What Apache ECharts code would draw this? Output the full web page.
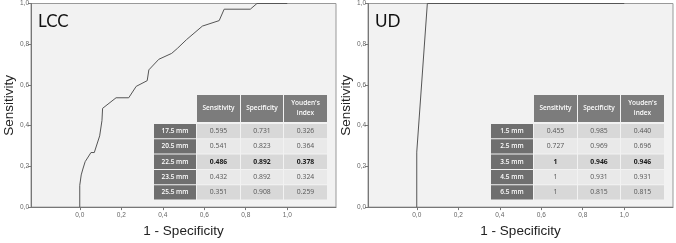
<!DOCTYPE html>
<html><head><meta charset="utf-8">
<script src="https://cdn.jsdelivr.net/npm/echarts@6/dist/echarts.min.js"></script>
<style>html,body{margin:0;padding:0;background:#fff}#c{width:676px;height:243px}</style>
</head><body><div id="c"></div>
<script>
// ---- data ----
const xTicks = [0, 0.2, 0.4, 0.6, 0.8, 1.0];
const lccCurve = [[0,0],[0,0.107],[0.007,0.11],[0.007,0.158],[0.015,0.187],[0.026,0.223],[0.054,0.268],[0.07,0.268],[0.096,0.35],[0.107,0.425],[0.11,0.485],[0.175,0.537],[0.236,0.537],[0.272,0.593],[0.325,0.621],[0.333,0.674],[0.381,0.726],[0.443,0.755],[0.47,0.779],[0.515,0.823],[0.591,0.889],[0.672,0.916],[0.696,0.972],[0.822,0.972],[0.854,1],[1,1]];
const udCurve = [[0,0],[0,0.27],[0.051,1],[1,1]];
const panelTitles = ['LCC', 'UD'];
const tableHeaders = ['Sensitivity', 'Specificity', "Youden's\nindex"];
const lccCutoffs = ['17.5 mm', '20.5 mm', '22.5 mm', '23.5 mm', '25.5 mm'];
const lccSensitivity = ['0.595', '0.541', '0.486', '0.432', '0.351'];
const lccSpecificity = ['0.731', '0.823', '0.892', '0.892', '0.908'];
const lccYouden = ['0.326', '0.364', '0.378', '0.324', '0.259'];
const udCutoffs = ['1.5 mm', '2.5 mm', '3.5 mm', '4.5 mm', '6.5 mm'];
const udSensitivity = ['0.455', '0.727', '1', '1', '1'];
const udSpecificity = ['0.985', '0.969', '0.946', '0.931', '0.815'];
const udYouden = ['0.440', '0.696', '0.946', '0.931', '0.815'];
const boldRow = 2;

// ---- layout ----
const panelLeft = [31, 368];
const panelTop = 3, panelW = 305, panelH = 206;
const fmt = v => v.toFixed(1).replace('.', ',');
const smallFont = 'Open Sans';

function makeX(i) {
  return {
    gridIndex: i, type: 'value', min: -0.235, max: 1.235, position: 'bottom',
    name: '1 - Specificity', nameLocation: 'middle', nameGap: 14,
    nameTextStyle: { fontFamily: 'Liberation Sans', fontSize: 13.5, color: '#222' },
    axisLine: { show: true, onZero: false, lineStyle: { color: '#777', width: 1 } },
    axisTick: { show: true, length: 3, customValues: xTicks, lineStyle: { color: '#777' } },
    axisLabel: { customValues: xTicks, formatter: fmt, fontSize: 6.5, color: '#666', margin: 5, fontFamily: 'Liberation Sans' },
    splitLine: { show: false }
  };
}
function makeY(i) {
  return {
    gridIndex: i, type: 'value', min: 0, max: 1, interval: 0.2, position: 'left',
    name: 'Sensitivity', nameLocation: 'middle', nameGap: 14,
    nameTextStyle: { fontFamily: 'Liberation Sans', fontSize: 13.5, color: '#222' },
    axisLine: { show: true, onZero: false, lineStyle: { color: '#777', width: 1 } },
    axisTick: { show: true, length: 3, lineStyle: { color: '#777' } },
    axisLabel: { formatter: fmt, fontSize: 6.5, color: '#666', margin: 2, fontFamily: 'Liberation Sans' },
    splitLine: { show: false }
  };
}

function buildTable(px, py, cutoffs, sens, spec, you) {
  const els = [];
  const labX = px + 123, labW = 42;
  const colX = [px + 166, px + 210, px + 253];
  const colW = [43, 42, 43];
  const headY = py + 92, headH = 27;
  const rowY0 = py + 121, rowH = 14.3, rowP = 15.3;
  tableHeaders.forEach((h, j) => {
    els.push({ type: 'rect', silent: true, shape: { x: colX[j], y: headY, width: colW[j], height: headH }, style: { fill: '#7c7c7c' } });
    els.push({ type: 'text', silent: true, x: colX[j] + colW[j] / 2, y: headY + headH / 2,
      style: { text: h, fill: '#fff', fontFamily: smallFont, fontSize: 6.5, fontWeight: 600, align: 'center', verticalAlign: 'middle', lineHeight: 10 } });
  });
  const cols = [sens, spec, you];
  cutoffs.forEach((c, i) => {
    const y = rowY0 + i * rowP;
    const bold = i === boldRow;
    els.push({ type: 'rect', silent: true, shape: { x: labX, y: y, width: labW, height: rowH }, style: { fill: '#6f6f6f' } });
    els.push({ type: 'text', silent: true, x: labX + labW / 2, y: y + rowH / 2,
      style: { text: c, fill: '#fff', fontFamily: smallFont, fontSize: 6.5, fontWeight: 600, align: 'center', verticalAlign: 'middle' } });
    cols.forEach((arr, j) => {
      els.push({ type: 'rect', silent: true, shape: { x: colX[j], y: y, width: colW[j], height: rowH }, style: { fill: i % 2 === 0 ? '#d8d8d8' : '#e9e9e9' } });
      els.push({ type: 'text', silent: true, x: colX[j] + colW[j] / 2, y: y + rowH / 2,
        style: { text: arr[i], fill: bold ? '#1a1a1a' : '#555', fontFamily: smallFont, fontSize: 6.8, fontWeight: bold ? 700 : 400, align: 'center', verticalAlign: 'middle' } });
    });
  });
  return els;
}

const graphics = [];
panelTitles.forEach((t, i) => {
  graphics.push({ type: 'text', silent: true, x: panelLeft[i] + 7, y: panelTop + 19,
    style: { text: t, fill: '#111', fontFamily: 'Lato', fontSize: 17, align: 'left', verticalAlign: 'middle' } });
});
graphics.push(...buildTable(panelLeft[0], panelTop, lccCutoffs, lccSensitivity, lccSpecificity, lccYouden));
graphics.push(...buildTable(panelLeft[1], panelTop, udCutoffs, udSensitivity, udSpecificity, udYouden));

const chart = echarts.init(document.getElementById('c'), null, { renderer: 'canvas' });
chart.setOption({
  animation: false,
  backgroundColor: '#fff',
  grid: panelLeft.map(l => ({ left: l, top: panelTop, width: panelW, height: panelH, show: true, backgroundColor: '#f2f2f2', borderColor: '#999', borderWidth: 1 })),
  xAxis: [makeX(0), makeX(1)],
  yAxis: [makeY(0), makeY(1)],
  series: [
    { type: 'line', xAxisIndex: 0, yAxisIndex: 0, data: lccCurve, showSymbol: false, silent: true, lineStyle: { color: '#555', width: 1 } },
    { type: 'line', xAxisIndex: 1, yAxisIndex: 1, data: udCurve, showSymbol: false, silent: true, lineStyle: { color: '#555', width: 1 } }
  ],
  graphic: graphics
});
</script></body></html>
